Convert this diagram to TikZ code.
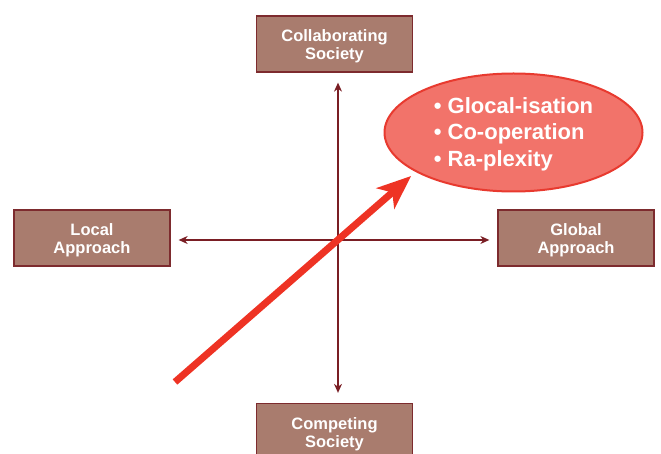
\documentclass[tikz,border=0pt]{standalone}
\usepackage{fontspec}
\setmainfont{Liberation Sans}
\usetikzlibrary{arrows.meta,shapes.geometric}
\definecolor{boxfill}{HTML}{A97C6E}
\definecolor{boxline}{HTML}{7D2B2E}
\definecolor{axiscol}{HTML}{7A1E24}
\definecolor{ellfill}{HTML}{F2736A}
\definecolor{ellline}{HTML}{E83A2F}
\definecolor{bigred}{HTML}{EE3324}
\begin{document}
\begin{tikzpicture}[x=1pt,y=-1pt,
  societybox/.style={draw=boxline, line width=1.3pt, fill=boxfill,
    minimum width=156pt, minimum height=56pt, inner sep=0pt, text=white,
    font=\bfseries\fontsize{16.5}{18}\selectfont, align=center,
    text height=36pt, text depth=4pt},
  axisarrow/.style={draw=axiscol, line width=1.1pt, -{Stealth[length=9pt,width=8pt]}},
  bigarrow/.style={draw=bigred, line width=7pt, -{Stealth[length=34pt,width=27pt,inset=9pt]}},
  ideas/.style={ellipse, draw=ellline, line width=2pt, fill=ellfill,
    minimum width=258pt, minimum height=118pt, inner sep=0pt, text=white,
    font=\bfseries\fontsize{22}{26.5}\selectfont, align=left,
    text height=73pt, text depth=5pt}]
\useasboundingbox (0,0) rectangle (661,454);
\node[societybox] (top) at (334.5,44) {Collaborating\\Society};
\node[societybox] (left) at (92,238) {Local\\Approach};
\node[societybox] (right) at (576,238) {Global\\Approach};
\node[societybox] (bottom) at (334.5,431.5) {Competing\\Society};
\coordinate (o) at (338,240);
\draw[axisarrow, shorten >=10pt] (o) -- (o |- top.south);
\draw[axisarrow, shorten >=10pt] (o) -- (o |- bottom.north);
\draw[axisarrow, shorten >=8pt] (o) -- (o -| left.east);
\draw[axisarrow, shorten >=8pt] (o) -- (o -| right.west);
\node[ideas] (ell) at (513.5,132.5) {• Glocal-isation\\• Co-operation\\• Ra-plexity};
\coordinate (tail) at (175,382);
\draw[bigarrow, shorten >=6pt] (tail) -- (ell.202.7);
\end{tikzpicture}
\end{document}
